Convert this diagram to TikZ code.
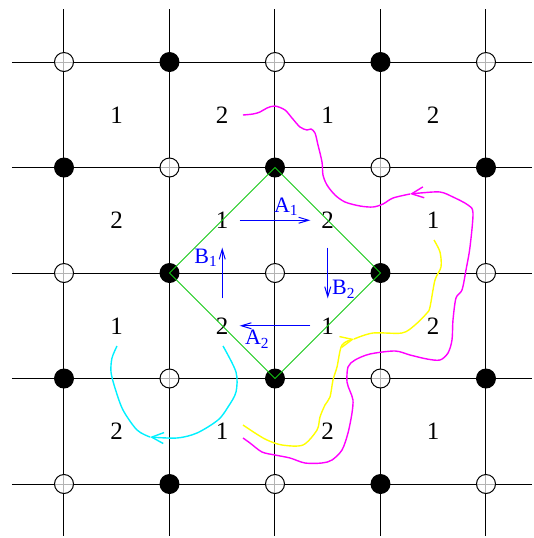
\documentclass[tikz,border=0pt]{standalone}
\usepackage{fontspec}
\setmainfont{Liberation Serif}
\usetikzlibrary{arrows.meta}
\definecolor{fgreen}{RGB}{20,200,20}
\definecolor{fmag}{RGB}{255,0,255}
\definecolor{fcyan}{RGB}{0,240,255}
\definecolor{fyel}{RGB}{255,255,0}

\begin{document}
\begin{tikzpicture}[x=0.5pt,y=-0.5pt,
  ring/.style={circle,draw,fill=white,fill opacity=0.7,inner sep=0pt,minimum size=9.5pt,line width=0.5pt},
  dot/.style={circle,fill=black,inner sep=0pt,minimum size=10pt},
  num/.style={inner sep=0pt,minimum width=17pt,minimum height=27pt,font=\fontsize{12.5}{15}\selectfont},
  lab/.style={text=blue,font=\fontsize{11}{13}\selectfont,inner sep=2pt},
  arr/.style={draw=blue,line width=0.5pt,-{Straight Barb[length=5pt,width=3pt]}},
  crv/.style={line width=0.7pt,smooth,tension=0.5},
  >={Straight Barb[length=6pt,width=5.5pt]}]
\useasboundingbox (0,0) rectangle (534,538);
% lattice
\foreach \k in {0,...,4}{
  \draw[line width=0.5pt] (12,{62+105.5*\k}) -- (532,{62+105.5*\k});
  \draw[line width=0.5pt] ({64+105.5*\k},9) -- ({64+105.5*\k},536);
}
\foreach \i in {0,...,4}
  \foreach \j in {0,...,4}{
    \pgfmathtruncatemacro{\odd}{mod(\i+\j,2)}
    \ifnum\odd=1
      \node[dot] (p-\i-\j) at ({64+105.5*\i},{62+105.5*\j}) {};
    \else
      \node[ring] (p-\i-\j) at ({64+105.5*\i},{62+105.5*\j}) {};
    \fi
  }
% cell labels
\foreach \i in {0,...,3}
  \foreach \j in {0,...,3}{
    \pgfmathtruncatemacro{\v}{mod(\i+\j,2)+1}
    \node[num] (n-\i-\j) at ({116.75+105.5*\i},{114.75+105.5*\j}) {\v};
  }
% unit cell
\draw[fgreen,line width=0.5pt] (p-2-1.center) -- (p-3-2.center) -- (p-2-3.center) -- (p-1-2.center) -- cycle;
% generators
\draw[arr] (n-1-1) -- (n-2-1) node[lab,pos=.66,above] {A\textsubscript{1}};
\draw[arr] (n-2-1) -- (n-2-2) node[lab,pos=.82,right] {B\textsubscript{2}};
\draw[arr] (n-2-2) -- (n-1-2) node[lab,pos=.75,below] {A\textsubscript{2}};
\draw[arr] (n-1-2) -- (n-1-1) node[lab,pos=.8,left] {B\textsubscript{1}};
% paths
\draw[fmag,crv,->] plot coordinates {(243,438) (250,443) (262,452) (275,455) (290,458) (305,463)
  (322,463) (332,460) (342,450) (348,433) (352,413) (353,400) (350,391) (347,382) (348,367)
  (355,360) (370,354) (395,351) (410,355) (427,359) (440,360) (448,353) (452,340) (453,320)
  (456,298) (462,290) (466,270) (470,247) (473,213) (468,205) (453,197) (440,192) (420,193) (410,194)};
\draw[fmag,crv] plot coordinates {(410,194) (393,198) (383,204) (373,207) (360,206) (345,202)
  (335,195) (327,185) (323,175) (322,162) (318,145) (315,133) (311,129) (307,130) (300,127)
  (292,118) (285,110) (275,106) (267,108) (260,112) (253,114) (243,115)};
\draw[fyel,crv,->] plot coordinates {(243,425) (255,433) (267,440) (282,445) (303,445) (317,430)
  (320,417) (325,405) (330,397) (333,380) (337,367) (342,345) (354,339)};
\draw[fyel,crv] plot coordinates {(354,339) (373,333) (402,333) (415,325) (427,313) (430,307)
  (435,280) (441,267) (440,252) (434,240)};
\draw[fcyan,crv,->] plot coordinates {(223,346) (236,372) (236,392) (228,407) (218,420) (197,433)
  (177,438) (150,437)};
\draw[fcyan,crv] plot coordinates {(150,437) (137,430) (123,410) (115,388) (111,372) (112,358) (117,346)};
\end{tikzpicture}
\end{document}
